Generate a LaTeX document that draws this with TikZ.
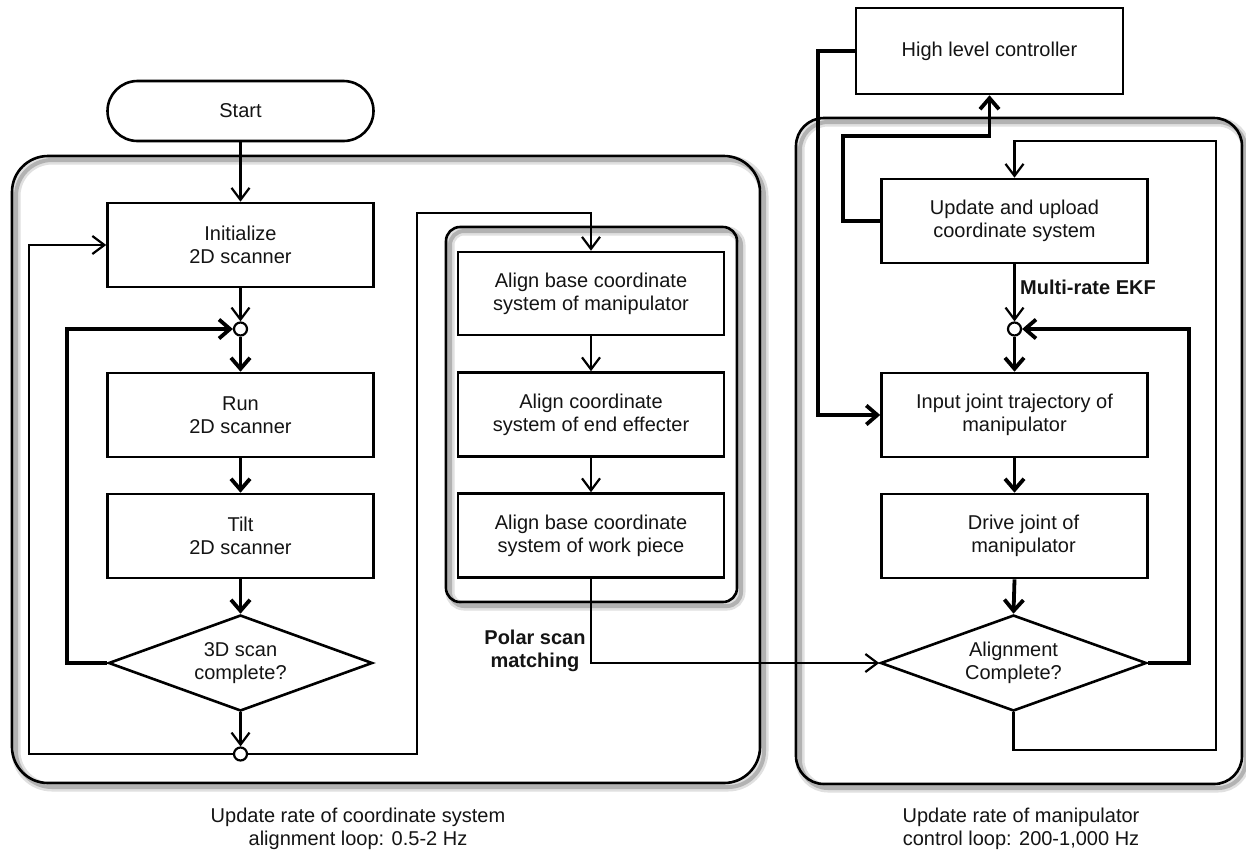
\documentclass[tikz,border=0pt]{standalone}
\usepackage{fontspec}
\setmainfont{Liberation Sans}
\usetikzlibrary{shapes.geometric,arrows.meta,calc}
\begin{document}
\begin{tikzpicture}[x=1pt,y=-1pt,
  every node/.style={font=\fontsize{20}{23}\selectfont, text=black!92},
  boldlabel/.style={font=\fontsize{20}{23}\selectfont\bfseries, align=center},
  proc/.style={draw, line width=2.6pt, fill=white, minimum width=266pt, minimum height=84pt, inner sep=0pt, align=center},
  term/.style={draw, line width=2.6pt, fill=white, rounded corners=30pt, minimum width=266pt, minimum height=60pt, inner sep=0pt},
  dec/.style={draw, diamond, line width=2.6pt, fill=white, minimum width=264pt, minimum height=96pt, aspect=2.75, inner sep=0pt, align=center},
  jn/.style={draw, circle, line width=2.2pt, fill=white, minimum size=13pt, inner sep=0pt},
  fl/.style={line width=2.2pt, -{Straight Barb[length=12pt,width=18pt]}},
  fk/.style={line width=3.8pt, -{Straight Barb[length=11pt,width=19pt]}},
  frame/.style={line width=2.6pt},
  shadeA/.style={line width=9pt, draw=black!12},
  shadeB/.style={line width=4pt, draw=black!30},
]
\useasboundingbox (0,0) rectangle (1246,855);
\fill[white] (0,0) rectangle (1246,855);

% region frames with soft shadows
\begin{scope}[shift={(4,4)}]
  \draw[shadeA, rounded corners=36pt] (12,156) rectangle (760,783);
  \draw[shadeB, rounded corners=36pt] (12,156) rectangle (760,783);
  \draw[shadeA, rounded corners=28pt] (796,118) rectangle (1242,784);
  \draw[shadeB, rounded corners=28pt] (796,118) rectangle (1242,784);
  \draw[shadeA, rounded corners=14pt] (446,227) rectangle (737,602);
  \draw[shadeB, rounded corners=14pt] (446,227) rectangle (737,602);
\end{scope}
\draw[frame, rounded corners=36pt] (12,156) rectangle (760,783);
\draw[frame, rounded corners=28pt] (796,118) rectangle (1242,784);
\draw[frame, rounded corners=14pt] (446,227) rectangle (737,602);

% left chain
\node[term] (start) at (240.5,111) {Start};
\node[proc] (init) at (240.5,245) {Initialize\\2D scanner};
\node[jn] (j1) at (240.5,329) {};
\node[proc] (run) at (240.5,415) {Run\\2D scanner};
\node[proc] (tilt) at (240.5,536) {Tilt\\2D scanner};
\node[dec] (d1) at (240.5,663) {3D scan\\complete?};
\node[jn] (j2) at (240.5,754) {};

% middle chain
\node[proc, minimum height=83pt] (a1) at (591,293.5) {Align base coordinate\\system of manipulator};
\node[proc] (a2) at (591,414.5) {Align coordinate\\system of end effecter};
\node[proc] (a3) at (591,535.5) {Align base coordinate\\system of work piece};

% right chain
\node[proc, minimum width=267pt, minimum height=86pt] (hlc) at (989.5,51) {High level controller};
\node[proc] (upd) at (1014.5,221) {Update and upload\\coordinate system};
\node[jn] (j3) at (1014.5,329) {};
\node[proc] (inp) at (1014.5,415) {Input joint trajectory of\\manipulator};
\node[proc] (drv) at (1014.5,536) {\hspace*{18pt}Drive joint of\\\hspace*{18pt}manipulator};
\node[dec, minimum width=266pt] (d2) at (1013.5,663) {Alignment\\Complete?};

% labels
\node[boldlabel] (ekf) at (1088,287) {Multi-rate EKF};
\node[boldlabel] (polar) at (535,651) {Polar scan\\matching};
\node[align=center] (cap1) at (358,829) {Update rate of coordinate system\\alignment loop: 0.5-2 Hz};
\node[align=center] (cap2) at (1021,829) {Update rate of manipulator\\control loop: 200-1,000 Hz};

% bend coordinates
\coordinate (k1) at (417,213);
\coordinate (k3) at (843,136);
\coordinate (k4) at (1216,750);
\coordinate (k5) at (1216,141);

% left connectors
\draw[fl] (start.south) -- (init.north);
\draw[fl] (init.south) -- (j1.north);
\draw[fk] (j1.south) -- (run.north);
\draw[fk] (run.south) -- (tilt.north);
\draw[fk] (tilt.south) -- (d1.north);
\draw[fk] (d1.west) -- ++(-40,0) |- (j1.west);
\draw[fl] (d1.south) -- (j2.north);
\draw[fl] (j2.west) -- ++(-204,0) |- (init.west);
\draw[fl] (j2.east) -| (k1) -| (a1.north);

% middle connectors
\draw[fl] (a1.south) -- (a2.north);
\draw[fl] (a2.south) -- (a3.north);
\draw[fl] (a3.south) |- (d2.west);

% right connectors
\draw[fk] (hlc.west) -- ++(-37,0) |- (inp.west);
\draw[fk] (upd.west) -| (k3) -| (hlc.south);
\draw[fl] (upd.south) -- (j3.north);
\draw[fk] (j3.south) -- (inp.north);
\draw[fk] (inp.south) -- (drv.north);
\draw[fk] (drv.south) -- (d2.north);
\draw[fk] (d2.east) -- ++(41,0) |- (j3.east);
\draw[fl] (d2.south) |- (k4) -- (k5) -| (upd.north);
\end{tikzpicture}
\end{document}
